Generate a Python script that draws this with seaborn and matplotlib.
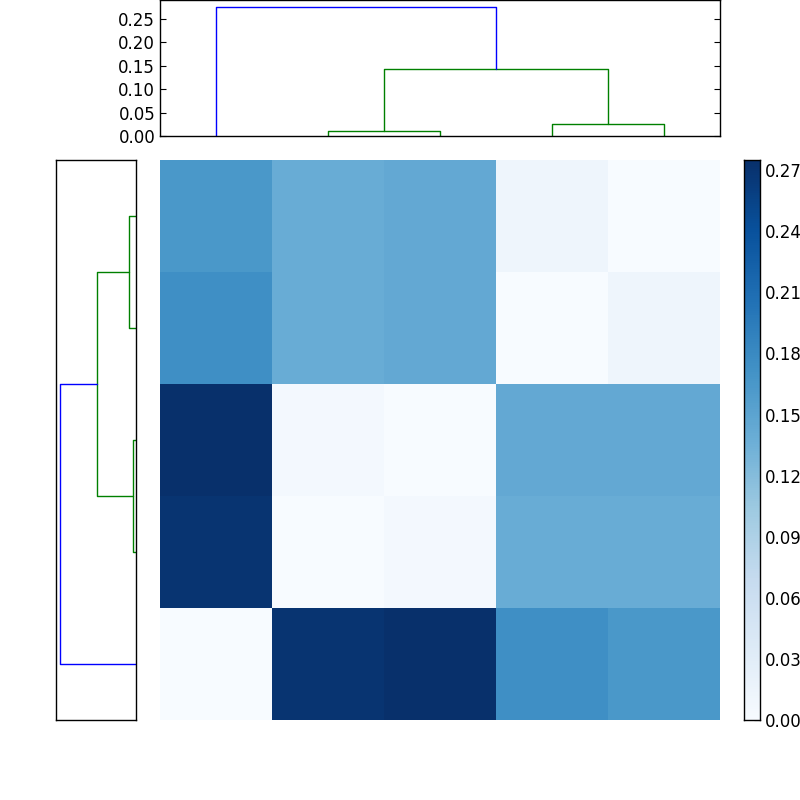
import matplotlib
matplotlib.use("Agg")
import matplotlib.pyplot as plt
import seaborn as sns
import numpy as np

sns.set_style("white")
plt.rcParams['font.family'] = ['DejaVu Sans']
plt.rcParams['font.size'] = 12
plt.rcParams['text.color'] = 'black'
plt.rcParams['xtick.color'] = 'black'
plt.rcParams['ytick.color'] = 'black'

matrix = [
    [0.165, 0.140, 0.145, 0.012, 0.000],
    [0.175, 0.140, 0.145, 0.000, 0.012],
    [0.275, 0.006, 0.000, 0.145, 0.145],
    [0.270, 0.000, 0.006, 0.140, 0.140],
    [0.000, 0.270, 0.275, 0.175, 0.165],
]
# merges: (left child, right child, height, color); children: leaf index or 'cN' for previous cluster
top_links = [(1, 2, 0.010, 'g'), (3, 4, 0.025, 'g'), ('c0', 'c1', 0.143, 'g'), (0, 'c2', 0.275, 'b')]
left_links = [(0, 1, 0.025, 'g'), (2, 3, 0.011, 'g'), ('c0', 'c1', 0.140, 'g'), ('c2', 4, 0.270, 'b')]
cbar_ticks = [0.00, 0.03, 0.06, 0.09, 0.12, 0.15, 0.18, 0.21, 0.24, 0.27]

def draw_dendro(ax, links, horizontal):
    pos = {}; hgt = {}
    def get(c):
        if isinstance(c, str):
            return pos[c], hgt[c]
        return 5 + 10 * c, 0.0
    for i, (a, b, h, col) in enumerate(links):
        xa, ha = get(a); xb, hb = get(b)
        xs = [xa, xa, xb, xb]; ys = [ha, h, h, hb]
        if horizontal:
            ax.plot(xs, ys, color=col, lw=1)
        else:
            ax.plot(ys, xs, color=col, lw=1)
        pos['c%d' % i] = (xa + xb) / 2; hgt['c%d' % i] = h

fig = plt.figure(figsize=(8, 8), dpi=100)
ax_top = fig.add_axes([0.2, 0.83, 0.7, 0.17])
ax_left = fig.add_axes([0.07, 0.1, 0.1, 0.7])
ax_hm = fig.add_axes([0.2, 0.1, 0.7, 0.7])
ax_cb = fig.add_axes([0.93, 0.1, 0.02, 0.7])

draw_dendro(ax_top, top_links, True)
ax_top.set_xlim(0, 50); ax_top.set_ylim(0, 0.29)
ax_top.set_xticks([])
ax_top.set_yticks([0, 0.05, 0.10, 0.15, 0.20, 0.25])
ax_top.set_yticklabels(['%.2f' % v for v in [0, 0.05, 0.10, 0.15, 0.20, 0.25]])
ax_top.tick_params(axis='y', direction='in', right=True, left=True, length=4)

draw_dendro(ax_left, left_links, False)
ax_left.set_ylim(50, 0); ax_left.set_xlim(0.285, 0)
ax_left.set_xticks([]); ax_left.set_yticks([])

for a in (ax_top, ax_left, ax_hm, ax_cb):
    for s in a.spines.values():
        s.set_visible(True); s.set_color('black'); s.set_linewidth(1)

sns.heatmap(np.array(matrix), ax=ax_hm, cmap='Blues', vmin=0, vmax=0.275,
            cbar_ax=ax_cb, xticklabels=False, yticklabels=False)
ax_cb.set_yticks(cbar_ticks)
ax_cb.set_yticklabels(['%.2f' % v for v in cbar_ticks])
ax_cb.tick_params(length=4, direction='in', labelsize=12, colors='black')
for s in ax_cb.spines.values():
    s.set_visible(True)

fig.savefig('out.png', dpi=100)
